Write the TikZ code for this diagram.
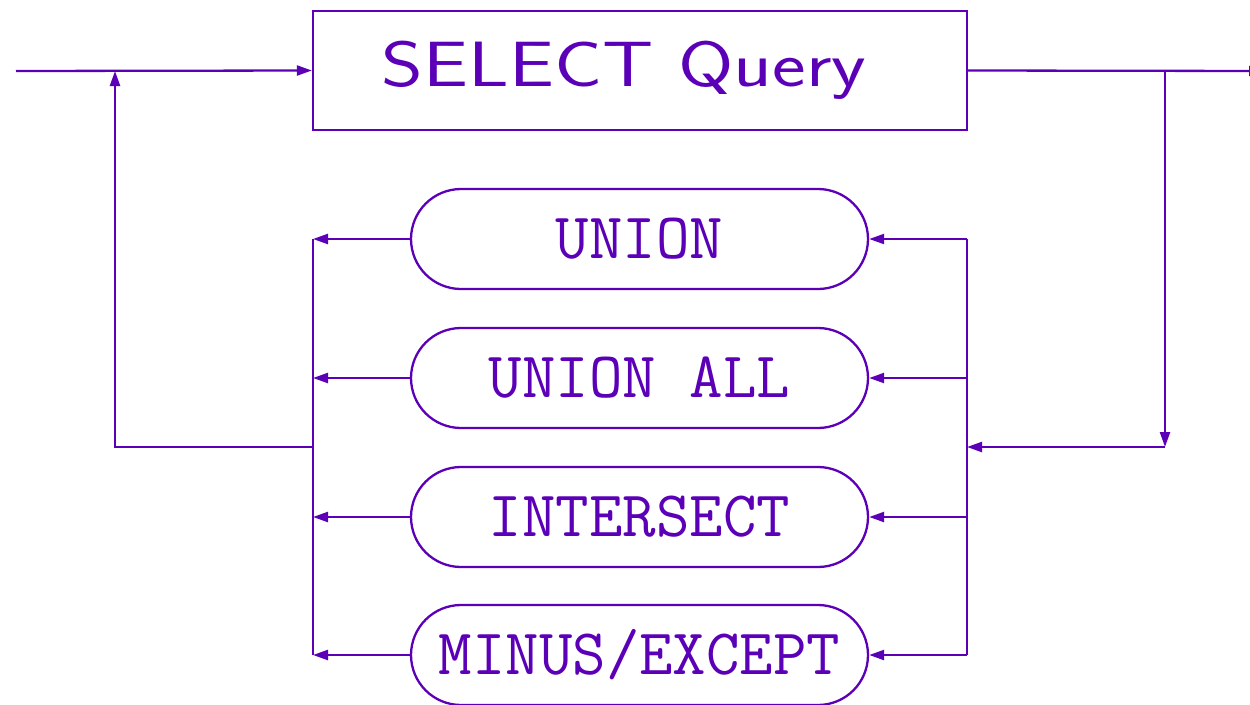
\documentclass[tikz,border=0pt]{standalone}
\usepackage{graphicx}
\usetikzlibrary{arrows.meta}
\definecolor{sqlpurple}{RGB}{92,0,184}
\begin{document}
\begin{tikzpicture}[x=1pt,y=-1pt, line width=2.3pt, color=sqlpurple,
  flow/.style={-{Triangle[length=15pt,width=10pt]}},
  term/.style={draw, rectangle, rounded corners=50pt, minimum width=457pt,
    minimum height=100pt, inner sep=0pt,
    font=\fontsize{65}{65}\selectfont\ttfamily},
  stmt/.style={draw, rectangle, minimum width=654pt, minimum height=119pt,
    inner sep=0pt, font=\fontsize{64}{64}\selectfont\sffamily}]
\useasboundingbox (0,0) rectangle (1250,704);

% statement and set operators
\node[stmt] (sel) at (640,70.5) {\scalebox{1.25}[1]{SELECT Query}\hspace*{32pt}};
\node[term] (union)  at (639.5,239) {UNION};
\node[term] (unall)  at (639.5,378) {UNION ALL};
\node[term] (inter)  at (639.5,517) {INTERSECT};
\node[term] (minus)  at (639.5,655) {MINUS/EXCEPT};

% junction points
\coordinate (start) at (16,71);
\coordinate (loopL) at (115,71);
\coordinate (loopB) at (115,447);
\coordinate (split) at (1165,71);
\coordinate (turn)  at (1165,447);
\coordinate (end)   at (1264,71);
\coordinate (rbus)  at (967,447);
\coordinate (lbus)  at (313,447);

% main line
\draw[flow] (start) -- (sel.west);
\draw[flow] (sel.east) -- (end);

% branch down to the operator choice
\draw[flow] (split) -- (turn);
\draw[flow] (turn) -- (rbus);

% right bus feeding the operators
\draw (union.east -| rbus) -- (minus.east -| rbus);
\foreach \n in {union,unall,inter,minus}
  \draw[flow] (\n.east -| rbus) -- (\n.east);

% left bus collecting the operators
\foreach \n in {union,unall,inter,minus}
  \draw[flow] (\n.west) -- (\n.west -| lbus);
\draw (union.west -| lbus) -- (minus.west -| lbus);

% loop back to the start
\draw[flow] (lbus) -- (loopB) -- (loopL);
\end{tikzpicture}
\end{document}
